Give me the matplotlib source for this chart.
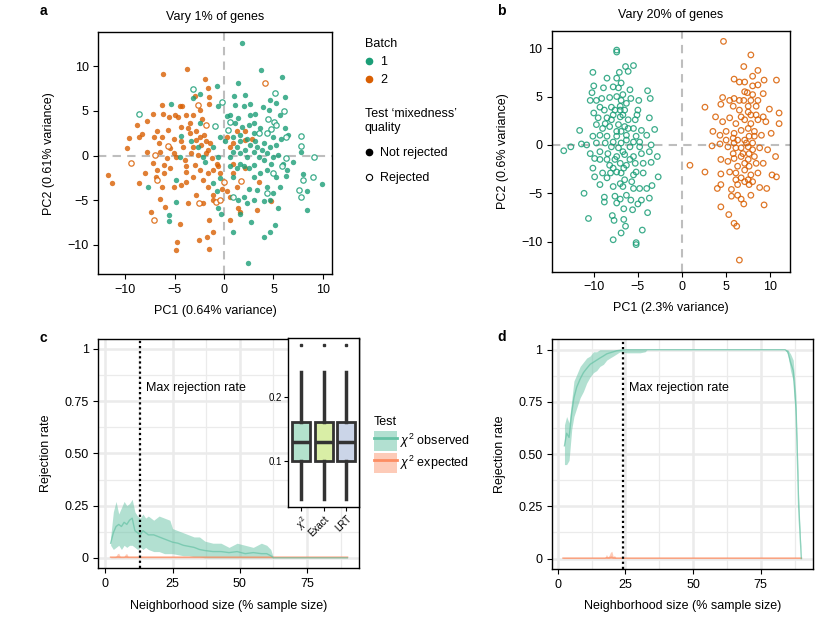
import numpy as np
import matplotlib
matplotlib.use("Agg")
import matplotlib.pyplot as plt
from matplotlib.lines import Line2D
from matplotlib.patches import Patch

plt.rcParams['font.family'] = ['Liberation Sans', 'DejaVu Sans']
plt.rcParams['mathtext.fontset'] = 'custom'
plt.rcParams['mathtext.rm'] = 'Liberation Sans'
plt.rcParams['mathtext.it'] = 'Liberation Sans:italic'
plt.rcParams['axes.unicode_minus'] = True

# ---- panel a : vary 1% of genes (PC1, PC2) ----
a_batch1 = [(1.8,12.6),(3.7,9.6),(5.9,8.8),(1.4,8.1),(-0.7,7.8),(2.1,6.8),(6.2,6.6),(1.0,6.7),(-2.4,6.9),(-3.1,6.4),
            (-5.4,5.8),(1.1,5.7),(2.0,5.6),(2.6,5.8),(3.9,5.4),(4.6,6.2),(5.3,5.9),(0.3,4.4),(0.6,4.6),(1.4,4.2),
            (2.6,4.6),(3.1,4.7),(4.5,5.1),(5.7,4.6),(-0.6,5.5),(-2.4,3.6),(1.8,3.2),(2.5,3.4),(3.0,3.6),(3.6,3.1),
            (6.2,3.1),(1.1,3.6),(-4.3,2.2),(-0.4,2.1),(0.1,1.6),(0.9,2.1),(1.6,1.6),(2.3,1.9),(3.0,2.5),(5.0,2.1),
            (5.8,1.9),(6.5,2.3),(4.0,1.4),(3.3,1.0),(1.3,1.0),(-1.1,1.0),(-4.4,-0.1),(-2.1,-0.1),(-0.6,-0.1),(0.6,-0.1),
            (1.6,0.3),(2.3,-0.1),(3.0,0.4),(3.5,-0.1),(4.0,-0.5),(4.3,0.3),(5.0,-0.1),(5.5,0.1),(6.0,-0.9),(7.0,-0.7),
            (7.8,0.4),(1.6,-0.9),(3.0,-1.0),(-4.8,-2.7),(-1.1,-3.1),(5.3,-2.4),(6.3,-2.3),(6.4,-1.6),(8.0,-2.1),(3.6,-2.0),
            (4.3,-1.6),(-7.7,-3.5),(-0.7,-4.0),(-4.8,-5.2),(2.5,-3.7),(2.0,-4.6),(4.3,-3.5),(5.0,-4.2),(5.7,-3.5),(8.4,-4.0),
            (9.9,-3.2),(3.3,-3.8),(4.6,-5.0),(4.0,-5.1),(5.5,-5.9),(8.4,-6.1),(1.6,-6.5),(2.3,-5.3),(3.0,-5.0),(1.4,-5.0),
            (-0.3,-6.5),(-0.6,-5.9),(-5.6,-6.6),(-5.6,-7.3),(2.7,-7.4),(5.2,-7.8),(0.9,-8.5),(4.6,-8.6),(4.0,-9.1),(2.4,-12.0),
            (-1.9,-0.7),(0.6,-1.2),(1.3,-1.4),(2.0,-1.2),(2.5,-1.4),(2.1,0.6),(2.6,1.2),(3.1,1.6),(1.6,2.3),(0.9,0.4),
            (-2.6,1.0),(-3.3,1.6),(3.8,0.6),(4.6,1.0),(5.3,1.2),(4.8,-0.9),(0.9,-2.4),(-0.4,-2.5),(3.0,-2.4)]
a_batch2 = [(-6.2,9.1),(-3.7,9.7),(-1.9,8.6),(-1.6,7.6),(-2.9,6.7),(-1.5,6.6),(-1.5,5.8),(-6.3,5.7),(-4.4,5.6),(-4.2,5.5),
            (-7.2,4.7),(-6.2,4.7),(-5.0,4.5),(-3.8,4.5),(-3.1,4.6),(-2.4,5.1),(-7.8,3.9),(-8.8,3.4),(-5.6,4.3),(-4.6,4.3),
            (-2.2,4.1),(-3.4,3.6),(-5.7,2.9),(-6.8,2.8),(-4.3,3.2),(-3.6,3.1),(-2.8,2.7),(1.3,2.7),(2.1,2.7),(-7.1,2.1),
            (-8.3,2.4),(-8.6,2.1),(-9.6,2.0),(-6.3,2.1),(-5.1,1.9),(-2.4,2.1),(-2.0,2.3),(-1.4,1.4),(-1.8,1.6),(-4.3,1.6),
            (-5.5,0.8),(-9.8,0.8),(-6.6,1.4),(0.9,1.4),(2.1,1.8),(2.8,1.9),(-3.1,1.0),(-3.4,2.5),(-7.8,0.4),(-7.2,-0.8),
            (-5.1,0.3),(-3.9,-0.5),(-3.3,0.3),(-2.6,0.1),(-1.8,0.3),(-5.8,-0.3),(-6.5,0.4),(-0.7,-0.9),(0.9,-0.9),(-8.0,-2.0),
            (-8.6,-3.1),(-11.7,-2.2),(-11.3,-3.1),(-6.9,-2.4),(-3.1,-2.4),(-2.4,-1.6),(-1.6,-2.0),(-1.1,-1.6),(-0.6,-1.2),(0.9,-2.0),
            (2.1,-1.4),(-5.5,-1.4),(-3.8,-1.8),(-6.1,-2.0),(-6.3,-3.5),(-5.1,-3.5),(-4.3,-3.3),(-3.8,-2.9),(-2.1,-2.7),(-2.8,-4.4),
            (-6.5,-4.9),(-3.6,-5.3),(-2.1,-5.3),(-1.1,-5.0),(0.6,-4.6),(0.3,-4.0),(1.3,-3.5),(4.8,-5.1),(3.3,-6.1),(1.4,-5.9),
            (1.6,-6.3),(-6.0,-5.7),(-7.4,-6.3),(-4.4,-7.7),(-1.5,-7.2),(0.6,-7.2),(-1.1,-8.6),(-1.7,-9.1),(-2.5,-9.4),(-4.7,-9.7),
            (-4.8,-10.6),(-1.5,-10.4),(-2.8,1.8),(-2.3,1.2),(-1.6,0.6),(-1.2,-0.3),(-0.4,-2.0),(0.6,1.0),(0.3,2.1),(-4.1,1.0),
            (-4.8,-0.1),(-3.8,-1.2),(-2.9,-1.0),(-6.1,-1.0),(-6.8,-1.6),(-1.6,-3.5),(-0.2,-3.7),(3.5,-2.9),(-1.1,-4.4)]
a_batch1_rej = [(-3.1,7.5),(-8.6,4.7),(-0.2,6.0),(5.2,7.0),(6.1,5.0),(4.4,4.1),(5.1,3.8),(5.3,3.4),(4.7,3.0),(3.5,2.5),
                (4.3,2.5),(7.8,2.2),(7.8,1.1),(9.1,-0.2),(9.0,-2.4),(8.0,-2.7),(7.6,-3.8),(7.8,-4.6),(6.3,-0.3),(5.9,-1.2),
                (0.9,-4.6),(0.4,2.9),(0.6,3.8),(-0.9,3.3),(6.3,2.1),(5.0,-2.0),(4.3,-4.2)]
a_batch2_rej = [(4.1,8.1),(-2.6,5.7),(-1.8,3.4),(-5.7,1.1),(-7.0,0.1),(-9.4,-0.8),(-6.8,-2.7),(-7.1,-7.2),(-2.5,-5.3),
                (-0.8,-5.2),(-0.4,-5.0),(1.7,-2.8),(0.0,-3.0)]

# ---- panel b : vary 20% of genes (all rejected) ----
b_batch1 = [(-7.4,9.8),(-7.4,9.6),(-10.1,7.5),(-8.5,6.9),(-7.4,6.9),(-7.1,7.5),(-6.4,8.1),(-5.5,8.2),(-6.1,7.6),(-10.0,6.1),
            (-8.9,5.9),(-7.8,6.0),(-7.2,5.9),(-10.2,5.4),(-10.4,4.6),(-9.7,4.6),(-9.1,4.8),(-8.2,4.9),(-7.4,5.0),(-6.7,5.2),
            (-5.8,4.8),(-4.9,4.6),(-3.9,5.6),(-3.6,4.8),(-9.3,3.9),(-8.8,3.6),(-8.0,3.9),(-7.0,4.0),(-10.0,3.3),(-8.5,2.8),
            (-7.8,3.1),(-7.0,2.9),(-5.1,3.1),(-3.7,2.8),(-9.7,2.1),(-9.0,1.7),(-8.2,1.9),(-7.2,2.1),(-6.5,1.9),(-5.5,1.7),
            (-4.6,1.5),(-3.1,1.6),(-11.6,1.5),(-9.3,1.0),(-8.5,0.9),(-7.4,0.9),(-6.3,1.0),(-5.2,0.9),(-4.0,1.0),(-11.4,0.1),
            (-10.8,0.0),(-13.4,-0.6),(-12.6,-0.2),(-9.7,0.2),(-8.7,0.2),(-7.8,0.3),(-6.9,0.2),(-5.9,-0.2),(-4.8,-0.2),(-3.5,0.0),
            (-10.4,-0.9),(-9.3,-0.7),(-8.4,-0.9),(-7.4,-1.2),(-6.5,-1.0),(-5.5,-1.2),(-4.6,-0.9),(-3.7,-0.7),(-2.8,-1.2),(-9.9,-1.4),
            (-9.3,-1.5),(-8.2,-2.1),(-7.0,-1.9),(-6.3,-2.1),(-5.3,-1.9),(-4.4,-1.9),(-3.5,-1.8),(-10.1,-2.4),(-9.0,-2.9),(-8.1,-2.9),
            (-7.4,-2.8),(-6.6,-2.4),(-5.5,-3.1),(-2.7,-3.3),(-9.9,-3.3),(-9.3,-4.1),(-7.8,-4.3),(-7.0,-4.0),(-6.5,-3.6),(-5.5,-4.5),
            (-4.8,-4.5),(-4.0,-4.5),(-3.4,-4.2),(-11.1,-5.0),(-8.8,-5.4),(-8.8,-5.9),(-7.6,-5.3),(-7.0,-5.6),(-6.3,-5.2),(-5.8,-5.7),
            (-5.0,-6.1),(-4.6,-5.7),(-3.7,-5.5),(-6.6,-6.6),(-5.6,-6.7),(-3.9,-7.0),(-10.6,-7.6),(-7.9,-7.3),(-6.6,-7.7),(-7.7,-7.8),
            (-6.4,-8.4),(-4.5,-8.8),(-6.9,-9.1),(-7.8,-9.8),(-5.2,-10.1),(-5.2,-10.3),(-6.9,4.6),(-7.0,3.6),(-6.3,4.3),(-7.6,3.6),
            (-6.7,3.1),(-6.1,2.6),(-7.4,1.4),(-6.9,1.4),(-6.3,0.5),(-7.2,-0.3),(-8.0,-0.2),(-6.7,-0.7),(-5.9,-1.5),(-7.6,-1.5),
            (-8.5,-1.5),(-6.9,-2.9),(-7.8,-2.4),(-5.2,-2.8),(-4.4,-2.9),(-5.7,-3.8),(-6.7,-4.3),(-8.5,-3.4),(-7.4,-6.0),(-6.1,1.7),
            (-5.3,2.6),(-5.0,3.6),(-8.7,2.2),(-8.0,2.6),(-9.5,2.8),(-5.9,5.7),(-6.9,6.4),(-6.5,3.6),(-5.5,0.3),(-4.8,0.3),(-10.1,0.9)]
b_batch2 = [(4.7,10.7),(7.8,9.3),(7.0,8.1),(8.6,7.7),(10.7,6.7),(5.9,6.8),(6.5,6.5),(7.1,6.5),(8.0,7.1),(9.3,6.7),
            (8.6,6.2),(8.0,6.1),(7.1,5.5),(7.4,5.4),(4.6,4.9),(5.4,4.6),(5.9,4.8),(7.0,4.6),(7.8,4.6),(9.2,5.3),
            (11.0,3.3),(11.0,2.2),(9.9,3.7),(2.6,3.9),(4.4,4.2),(5.8,4.0),(6.5,3.6),(7.5,3.4),(8.4,4.0),(9.2,2.9),
            (3.8,2.9),(4.6,2.4),(5.4,2.8),(6.1,2.2),(7.1,2.6),(7.8,2.2),(8.6,2.6),(9.5,2.4),(10.1,1.2),(3.5,1.4),
            (4.3,1.0),(5.0,1.4),(5.9,1.2),(6.7,1.5),(7.5,1.7),(8.2,1.4),(9.0,1.0),(3.4,-0.1),(4.3,0.1),(5.2,-0.2),
            (5.9,0.2),(6.7,-0.3),(7.5,-0.2),(8.0,0.2),(8.8,-0.3),(9.7,-0.5),(10.6,-1.2),(0.9,-2.1),(2.6,-2.8),(4.4,-1.5),
            (5.2,-1.7),(5.9,-1.4),(6.7,-1.2),(7.5,-1.5),(8.2,-1.2),(9.2,-1.9),(4.4,-3.0),(5.4,-2.8),(6.1,-2.9),(7.1,-2.6),
            (7.8,-3.1),(8.6,-2.9),(10.2,-3.1),(10.7,-3.3),(4.0,-4.5),(4.4,-4.1),(5.6,-4.6),(6.3,-4.1),(7.1,-3.8),(7.6,-4.1),
            (8.8,-4.4),(9.6,-4.5),(5.6,-5.3),(6.3,-5.2),(6.7,-5.6),(7.8,-5.2),(7.0,-6.1),(9.3,-6.2),(4.4,-6.4),(5.3,-7.2),
            (5.9,-8.1),(6.2,-8.4),(6.5,-11.9),(6.7,2.9),(6.3,0.5),(7.1,0.5),(7.6,0.9),(8.2,0.9),(6.9,-0.9),(7.6,-0.9),
            (7.1,-1.9),(6.3,-2.2),(7.6,-2.2),(8.0,-0.5),(6.5,4.6),(7.5,4.0),(7.8,3.1),(5.8,-0.9),(6.1,-0.3),(8.4,-1.9),
            (6.7,-3.4),(7.5,-3.6),(8.0,-3.8),(6.1,-3.6),(5.0,0.5),(5.8,0.7),(8.6,4.6),(8.0,5.2),(8.4,3.1),(7.3,0.2)]

# ---- panel c : rejection rate, 1% genes ----
c_x       = [2,3,4,5,6,7,8,9,10,11,12,13,14,15,16,18,20,22,24,25,27,29,31,33,35,37,40,43,46,49,52,55,58,60,61.5,62.5,70,80,90]
c_obs_hi  = [0.10,0.22,0.27,0.21,0.24,0.27,0.25,0.26,0.28,0.22,0.20,0.19,0.21,0.19,0.20,0.18,0.20,0.19,0.18,0.14,
             0.13,0.12,0.11,0.10,0.10,0.08,0.07,0.07,0.05,0.07,0.06,0.05,0.07,0.06,0.04,0,0,0,0]
c_obs_mid = [0.07,0.12,0.15,0.16,0.15,0.17,0.16,0.18,0.19,0.13,0.12,0.11,0.13,0.12,0.11,0.11,0.10,0.09,0.08,0.075,
             0.07,0.06,0.055,0.05,0.04,0.035,0.03,0.03,0.025,0.03,0.02,0.025,0.02,0.02,0.01,0,0,0,0]
c_obs_lo  = [0.06,0.04,0.05,0.06,0.04,0.06,0.05,0.06,0.06,0.05,0.04,0.05,0.04,0.05,0.04,0.03,0.03,0.02,0.02,0.02,
             0.015,0.01,0.01,0.005,0.005,0,0,0,0,0,0,0,0,0,0,0,0,0,0]
c_exp_x   = [2,3,4,4.5,5,5.5,6,7,7.5,8,8.5,9,10,90]
c_exp_hi  = [0.005,0.005,0.008,0.02,0.022,0.008,0.005,0.006,0.018,0.02,0.006,0.005,0.005,0.005]
c_exp_mid = [0.003,0.003,0.003,0.004,0.004,0.003,0.003,0.003,0.004,0.004,0.003,0.003,0.003,0.003]
c_max_x = 12.8

# inset boxplot (rejection rate per test)
box_tests = ['$\\chi^2$', 'Exact', 'LRT']
box_med = [0.130, 0.130, 0.130]
box_q1 = [0.0995, 0.0995, 0.0995]
box_q3 = [0.1605, 0.1605, 0.1605]
box_lo = [0.040, 0.040, 0.040]
box_hi = [0.2395, 0.2395, 0.2395]
box_out = [0.281, 0.281, 0.281]
box_fill = ['#b3e2cd', '#d9eea6', '#cbd5e8']

# ---- panel d : rejection rate, 20% genes ----
d_x       = [2.5,3.3,4.2,5.2,6,7,8.3,9.5,10.7,12,13.2,14.4,15.6,16.9,18.1,19.3,20.6,21.8,23,25.5,28,30.4,32.3,33,84,85,86,87,88,88.5,89,89.5,90]
d_obs_hi  = [0.64,0.68,0.65,0.76,0.85,0.88,0.92,0.94,0.96,0.97,0.99,0.99,1,1,1,1,1,1,1,1,1,1,1,1,1,1,0.98,0.95,0.78,0.55,0.30,0.15,0]
d_obs_mid = [0.54,0.60,0.58,0.70,0.77,0.82,0.86,0.89,0.91,0.93,0.94,0.95,0.96,0.97,0.98,0.985,0.99,0.995,0.997,1,1,1,1,1,1,0.99,0.94,0.90,0.72,0.50,0.25,0.12,0]
d_obs_lo  = [0.45,0.45,0.47,0.62,0.68,0.72,0.77,0.80,0.84,0.87,0.89,0.90,0.92,0.93,0.95,0.96,0.97,0.98,0.99,0.985,0.985,0.985,0.99,1,1,0.98,0.90,0.85,0.65,0.45,0.20,0.10,0]
d_exp_x   = [2,17.5,18,18.5,19,19.5,20,20.5,21,21.5,90]
d_exp_hi  = [0.003,0.003,0.02,0.008,0.015,0.03,0.035,0.01,0.015,0.003,0.003]
d_exp_mid = [0.002,0.002,0.004,0.003,0.003,0.005,0.006,0.003,0.003,0.002,0.002]
d_max_x = 24.2

green = '#1b9e77'
orange = '#d95f02'
obs_col = '#66c2a5'
exp_col = '#fc8d62'
fs = 9

fig = plt.figure(figsize=(8.33, 6.21), dpi=100)


def style_frame(ax):
    for s in ax.spines.values():
        s.set_linewidth(1.0)
        s.set_color('black')
    ax.tick_params(direction='out', length=3.5, width=0.8, labelsize=fs, colors='black')


def pca_panel(ax, xlim, ylim, xlabel, ylabel, title):
    ax.axhline(0, color='#bebebe', lw=1.5, ls=(0, (4, 3)), zorder=1)
    ax.axvline(0, color='#bebebe', lw=1.5, ls=(0, (4, 3)), zorder=1)
    ax.set_xlim(xlim)
    ax.set_ylim(ylim)
    ax.set_xticks([-10, -5, 0, 5, 10])
    ax.set_yticks([-10, -5, 0, 5, 10])
    ax.set_xlabel(xlabel, fontsize=fs, labelpad=6)
    ax.set_ylabel(ylabel, fontsize=fs, labelpad=9)
    ax.set_title(title, fontsize=fs, pad=9)
    style_frame(ax)


def pts(lst):
    arr = np.array(lst)
    return arr[:, 0], arr[:, 1]


# panel a
ax_a = fig.add_axes([0.118, 0.558, 0.281, 0.390])
for data, col in [(a_batch2, orange), (a_batch1, green)]:
    x, y = pts(data)
    ax_a.scatter(x, y, s=15, color=col, alpha=0.8, lw=0, zorder=3)
for data, col in [(a_batch2_rej, orange), (a_batch1_rej, green)]:
    x, y = pts(data)
    ax_a.scatter(x, y, s=15, facecolors='white', edgecolors=col, alpha=0.85, lw=0.9, zorder=3)
pca_panel(ax_a, (-12.7, 10.95), (-13.3, 13.8), 'PC1 (0.64% variance)', 'PC2 (0.61% variance)', 'Vary 1% of genes')

# panel b
ax_b = fig.add_axes([0.663, 0.5625, 0.285, 0.388])
for data, col in [(b_batch1, green), (b_batch2, orange)]:
    x, y = pts(data)
    ax_b.scatter(x, y, s=16, facecolors='none', edgecolors=col, alpha=0.85, lw=0.9, zorder=3)
pca_panel(ax_b, (-14.7, 12.2), (-13.1, 11.8), 'PC1 (2.3% variance)', 'PC2 (0.6% variance)', 'Vary 20% of genes')

# legends for a/b
leg1 = fig.legend(handles=[Line2D([], [], marker='o', ls='', color=green, markersize=4.5),
                           Line2D([], [], marker='o', ls='', color=orange, markersize=4.5)],
                  labels=['1', '2'], title='Batch', loc='upper left', bbox_to_anchor=(0.432, 0.947),
                  frameon=False, fontsize=fs, title_fontsize=fs, alignment='left',
                  handlelength=0.7, handletextpad=0.5, labelspacing=0.5, borderaxespad=0)
leg2 = fig.legend(handles=[Line2D([], [], marker='o', ls='', color='black', markersize=4.5),
                           Line2D([], [], marker='o', ls='', mfc='white', mec='black', mew=0.8, markersize=4.5)],
                  labels=['Not rejected', 'Rejected'], title='Test \u2018mixedness\u2019\nquality',
                  loc='upper left', bbox_to_anchor=(0.432, 0.834), frameon=False, fontsize=fs,
                  title_fontsize=fs, alignment='left', handlelength=0.7, handletextpad=0.5,
                  labelspacing=1.05, borderaxespad=0)


def rate_panel(ax, xlim, xs, lo, mid, hi, ex, ehi, emid, vx):
    ax.set_xlim(xlim)
    ax.set_ylim(-0.05, 1.05)
    ax.set_xticks([0, 25, 50, 75])
    ax.set_yticks([0, 0.25, 0.5, 0.75, 1])
    ax.set_yticklabels(['0', '0.25', '0.50', '0.75', '1'])
    ax.set_xticks([12.5, 37.5, 62.5, 87.5], minor=True)
    ax.set_yticks([0.125, 0.375, 0.625, 0.875], minor=True)
    ax.grid(which='major', color='#ebebeb', lw=1.8)
    ax.grid(which='minor', color='#ebebeb', lw=0.9)
    ax.tick_params(which='minor', length=0)
    ax.set_axisbelow(True)
    ax.fill_between(ex, 0, ehi, color=exp_col, alpha=0.45, lw=0, zorder=2)
    ax.plot(ex, emid, color=exp_col, lw=1.2, alpha=0.7, zorder=3)
    ax.fill_between(xs, lo, hi, color=obs_col, alpha=0.5, lw=0, zorder=2)
    ax.plot(xs, mid, color=obs_col, lw=1.0, alpha=0.7, zorder=3)
    ax.axvline(vx, color='black', lw=1.6, ls=(0, (1, 1.3)), zorder=4)
    ax.text(vx + 2.3, 0.815, 'Max rejection rate', fontsize=fs, va='center', ha='left', zorder=5)
    ax.set_xlabel('Neighborhood size (% sample size)', fontsize=fs, labelpad=7)
    ax.set_ylabel('Rejection rate', fontsize=fs, labelpad=9)
    style_frame(ax)


# panel c
ax_c = fig.add_axes([0.118, 0.0849, 0.3133, 0.370])
rate_panel(ax_c, (-2.6, 94.4), c_x, c_obs_lo, c_obs_mid, c_obs_hi, c_exp_x, c_exp_hi, c_exp_mid, c_max_x)

# inset
ax_in = fig.add_axes([0.3461, 0.184, 0.0849, 0.271])
stats = []
for i in range(3):
    stats.append(dict(med=box_med[i], q1=box_q1[i], q3=box_q3[i], whislo=box_lo[i],
                      whishi=box_hi[i], fliers=[box_out[i]]))
bp = ax_in.bxp(stats, positions=[1, 2, 3], widths=0.8, patch_artist=True, showcaps=False,
               boxprops=dict(color='#333333', lw=2.0),
               whiskerprops=dict(color='#333333', lw=2.5),
               medianprops=dict(color='#333333', lw=2.5),
               flierprops=dict(marker='s', markersize=1.6, mfc='#333333', mec='#333333'))
for patch, col in zip(bp['boxes'], box_fill):
    patch.set_facecolor(col)
ax_in.set_xlim(0.44, 3.56)
ax_in.set_ylim(0.0286, 0.292)
ax_in.set_yticks([0.1, 0.2])
ax_in.set_yticklabels(['0.1', '0.2'])
ax_in.set_xticks([1, 2, 3])
ax_in.set_xticklabels(box_tests, rotation=45, ha='right', rotation_mode='anchor')
ax_in.tick_params(direction='out', length=3, width=0.8, labelsize=7, pad=1.5)
ax_in.tick_params(axis='x', labelsize=7, pad=2)
for s in ax_in.spines.values():
    s.set_linewidth(1.0)
ax_in.set_facecolor('white')
ax_in.set_zorder(10)

# legend c
fig.legend(handles=[(Patch(fc=obs_col, alpha=0.5, lw=0), Line2D([], [], color=obs_col, lw=2)),
                    (Patch(fc=exp_col, alpha=0.45, lw=0), Line2D([], [], color=exp_col, lw=2))],
           labels=['$\\chi^2$ observed', '$\\chi^2$ expected'], title='Test', loc='upper left',
           bbox_to_anchor=(0.443, 0.338), frameon=False, fontsize=fs, title_fontsize=fs,
           alignment='left', handlelength=1.8, handleheight=2.1, handletextpad=0.3,
           labelspacing=0.2, borderaxespad=0)

# panel d
ax_d = fig.add_axes([0.663, 0.0837, 0.3133, 0.370])
rate_panel(ax_d, (-2.0, 94.4), d_x, d_obs_lo, d_obs_mid, d_obs_hi, d_exp_x, d_exp_hi, d_exp_mid, d_max_x)

# panel letters
for lbl, (px, py) in zip('abcd', [(40, 11), (497, 11), (40, 338), (497, 337)]):
    fig.text(px / 833, 1 - py / 621, lbl, fontsize=10, fontweight='bold', ha='left', va='center')

fig.savefig('out.png', dpi=100)
